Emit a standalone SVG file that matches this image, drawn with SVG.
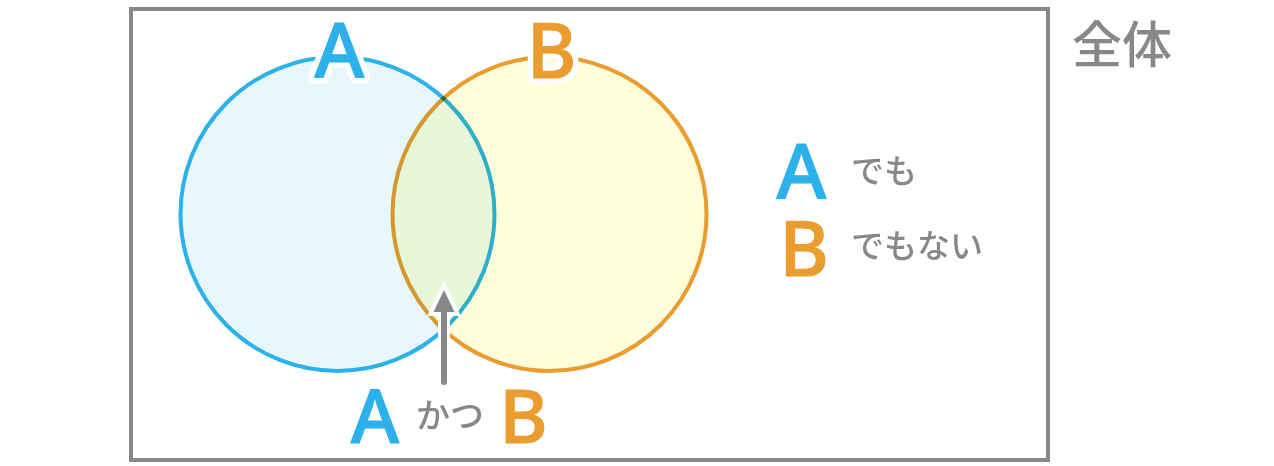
<svg xmlns="http://www.w3.org/2000/svg" width="1274" height="466" viewBox="0 0 1274 466">
<style>
.lt{font-family:"Noto Sans","Noto Sans CJK JP",sans-serif;font-weight:500;text-anchor:middle;stroke-width:1;stroke-linejoin:round}
.a{fill:#2cb1ea;stroke:#2cb1ea}
.b{fill:#eb9c2f;stroke:#eb9c2f}
.halo{stroke:#fff;stroke-width:12;stroke-linejoin:round}
.jp{font-family:"Noto Sans CJK JP","Noto Sans",sans-serif;fill:#888;font-weight:500}
.circ{mix-blend-mode:multiply;stroke-width:4}
</style>
<rect width="1274" height="466" fill="#fff"/>
<g id="universe">
<rect x="131" y="9" width="917" height="451" fill="none" stroke="#888" stroke-width="4"/>
<text class="jp" x="1072" y="63" font-size="50">全体</text>
</g>
<g id="setA">
<circle class="circ" cx="337.5" cy="214" r="157" fill="#e8f7fd" stroke="#2cb1ea"/>
</g>
<g id="setB">
<circle class="circ" cx="549.5" cy="214" r="157" fill="#fffedb" stroke="#eb9c2f"/>
</g>
<g id="labelA">
<text class="lt halo" x="339.5" y="78" font-size="76">A</text>
<text class="lt a" x="339.5" y="78" font-size="76">A</text>
</g>
<g id="labelB">
<text class="lt halo" x="551.5" y="78" font-size="76">B</text>
<text class="lt b" x="551.5" y="78" font-size="76">B</text>
</g>
<g id="connectors">
<line x1="444" y1="382" x2="444" y2="310" stroke="#fff" stroke-width="12"/>
<polygon points="444,290 433.5,312 454.5,312" fill="#888" stroke="#fff" stroke-width="8" stroke-linejoin="miter"/>
<line x1="444" y1="382" x2="444" y2="305" stroke="#888" stroke-width="6" stroke-linecap="round"/>
<polygon points="444,290 433.5,312 454.5,312" fill="#888"/>
</g>
<g id="intersection">
<text class="lt a" x="375" y="443" font-size="74">A</text>
<text class="jp" x="416" y="428" font-size="34">かつ</text>
<text class="lt b" x="523.5" y="443" font-size="74">B</text>
</g>
<g id="neither">
<text class="lt a" x="801.5" y="199" font-size="76">A</text>
<text class="jp" x="851" y="183" font-size="33">でも</text>
<text class="lt b" x="804" y="276" font-size="76">B</text>
<text class="jp" x="851" y="258" font-size="33">でもない</text>
</g>
</svg>
